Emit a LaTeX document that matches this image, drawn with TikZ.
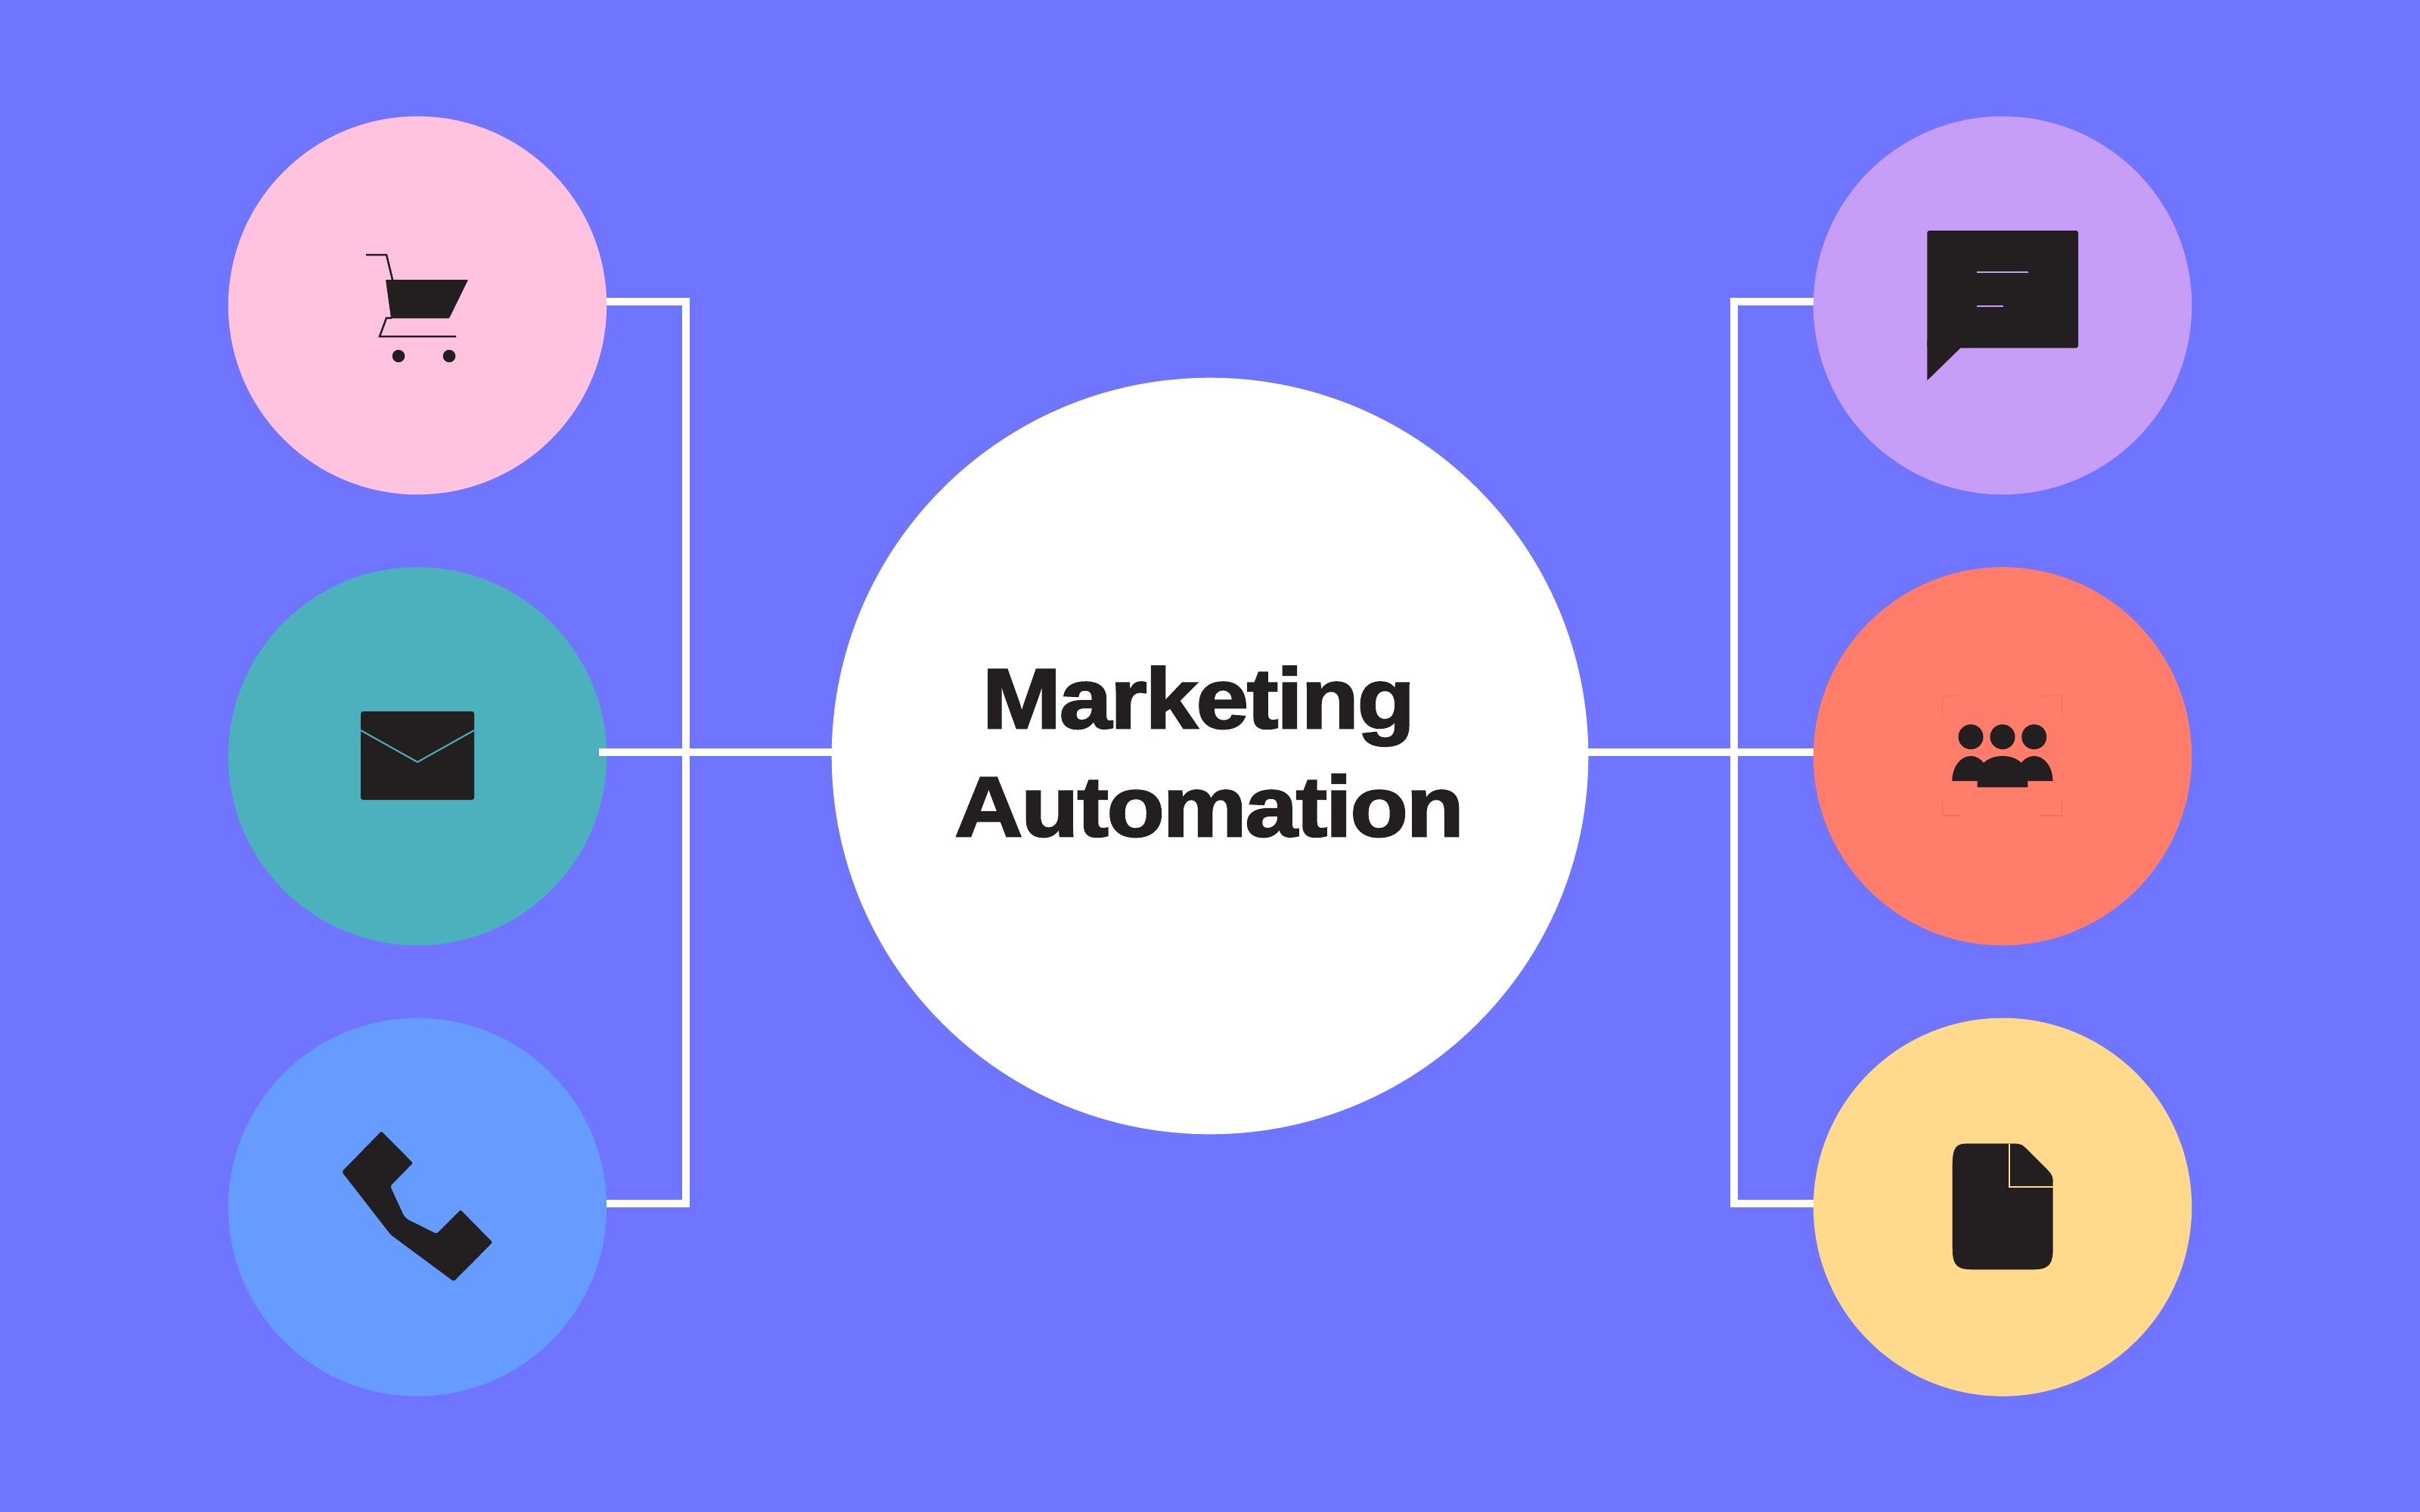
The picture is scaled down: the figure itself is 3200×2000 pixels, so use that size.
\documentclass[tikz,border=0pt]{standalone}
\usepackage{fontspec}
\usepackage{xcolor}
\usetikzlibrary{positioning,calc}
\newfontfamily\titlefont[BoldFeatures={FakeStretch=1.11,FakeBold=2.2,LetterSpace=-2}]{Liberation Sans}
\definecolor{bgblue}{HTML}{6F75FF}
\definecolor{ink}{HTML}{231F20}
\definecolor{cartpink}{HTML}{FFC2DF}
\definecolor{mailteal}{HTML}{4DB1BD}
\definecolor{phoneblue}{HTML}{669BFF}
\definecolor{chatpurple}{HTML}{C79EF7}
\definecolor{crowdcoral}{HTML}{FF7D6A}
\definecolor{fileyellow}{HTML}{FFD98C}
\definecolor{cropmark}{HTML}{EC6F5F}

\begin{document}
\begin{tikzpicture}[x=0.01cm, y=-0.01cm, node distance=0.96cm]
        \tikzset{
            disc/.style={circle, minimum size=5cm, inner sep=0pt, outer sep=0pt},
            link/.style={white, line width=0.1cm},
            glyph/.style={fill=ink, draw=none},
            wire/.style={ink, line width=0.025cm},
            title/.style={font=\titlefont\bfseries\fontsize{32}{32}\selectfont, text=ink, inner sep=0pt, anchor=base}
        }

        \fill[bgblue] (0,0) rectangle (3200,2000);

        \node[circle, fill=white, minimum size=10cm, inner sep=0pt, outer sep=0pt] (hub) at (1600,1000) {};

        \node[disc, fill=cartpink] (cart) at (552,404) {};
        \node[disc, fill=mailteal, below=of cart] (mail) {};
        \node[disc, fill=phoneblue, below=of mail] (phone) {};

        \node[disc, fill=chatpurple] (chat) at (2648,404) {};
        \node[disc, fill=crowdcoral, below=of chat] (crowd) {};
        \node[disc, fill=fileyellow, below=of crowd] (file) {};

        \coordinate (busleft) at (907,1000);
        \coordinate (busright) at (2293,1000);

        \draw[link] ($(cart.east)+(0,-5)$) -| (busleft) |- ($(phone.east)+(0,-5)$);
        \draw[link] ($(chat.west)+(0,-5)$) -| (busright) |- ($(file.west)+(0,-5)$);
        \draw[link] ($(mail.east |- hub.west)+(-10,-5)$) -- ($(hub.west)+(0,-5)$);
        \draw[link] ($(hub.east)+(0,-5)$) -- ($(crowd.west |- hub.east)+(0,-5)$);

        \node[title] (line1) at (1585,963) {Marketing};
        \node[title] (line2) at (1599,1106) {Automation};

        % cart
        \fill[glyph, rounded corners=0.01cm] (510,370) -- (619,370) -- (594,421) -- (517,421) -- cycle;
        \draw[wire] (484,337) -- (511,337) -- (519,370);
        \draw[wire] (518,420.5) -- (511,420.5) -- (502,445) -- (603,445);
        \fill[glyph] (527,471) circle (8.3);
        \fill[glyph] (594,471) circle (8.3);

        % envelope
        \fill[glyph, rounded corners=0.03cm] (477,941) rectangle (627,1058);
        \draw[mailteal, line width=0.02cm] (477,966) -- (552,1008) -- (627,966);

        % handset
        \fill[glyph, rounded corners=0.02cm] (504.3,1496.3) -- (546,1538.3) -- (516,1569) -- (534,1608) -- (539,1613) -- (577.3,1632)
            -- (609,1600.3) -- (651.3,1643.3) -- (600,1695) -- (516.7,1633.3) -- (452,1550) -- cycle;

        % bubble
        \fill[glyph, rounded corners=0.03cm] (2548.3,305) rectangle (2748,460.3);
        \fill[glyph] (2548.3,450) -- (2592.3,460.3) -- (2548.3,503.3) -- cycle;
        \draw[chatpurple, line width=0.02cm] (2613.7,360.3) -- (2682.3,360.3);
        \draw[chatpurple, line width=0.02cm] (2613.7,405) -- (2649,405);

        % people
        \foreach \px in {2606,2648,2689.7} {
            \fill[glyph] (\px,974.7) circle (16.5);
        }
        \fill[glyph] (2581.3,1033) arc[start angle=180, end angle=0, x radius=24.7, y radius=-33] -- cycle;
        \fill[glyph] (2665,1033) arc[start angle=180, end angle=0, x radius=24.7, y radius=-33] -- cycle;
        \fill[glyph] (2614.7,1041.3) -- (2614.7,1025) .. controls (2618,1008) and (2632,1000) .. (2648,1000)
            .. controls (2664,1000) and (2678,1008) .. (2681.3,1025) -- (2681.3,1041.3) -- cycle;
        \draw[cropmark, line width=0.015cm] (2568.3,948) -- (2568.3,920.7) -- (2591.7,920.7);
        \draw[cropmark, line width=0.015cm] (2696.7,920.7) -- (2726.7,920.7) -- (2726.7,948);
        \draw[cropmark, line width=0.015cm] (2568.3,1056.7) -- (2568.3,1079) -- (2591.7,1079);
        \draw[cropmark, line width=0.015cm] (2696.7,1079) -- (2726.7,1079) -- (2726.7,1056.7);

        % page
        \fill[glyph] (2600,1512.7) -- (2665,1512.7) .. controls (2670,1512.7) and (2674,1514) .. (2678,1518)
            -- (2708,1548) .. controls (2713,1553) and (2714.7,1557) .. (2714.7,1563)
            -- (2714.7,1650) .. controls (2714.7,1675) and (2708,1679.3) .. (2686,1679.3)
            -- (2610,1679.3) .. controls (2588,1679.3) and (2581.7,1675) .. (2581.7,1650)
            -- (2581.7,1540) .. controls (2581.7,1517) and (2588,1512.7) .. (2600,1512.7) -- cycle;
        \draw[fileyellow, line width=0.02cm] (2656.7,1512.7) -- (2656.7,1570.3) -- (2714.7,1570.3);
    \end{tikzpicture}
\end{document}
